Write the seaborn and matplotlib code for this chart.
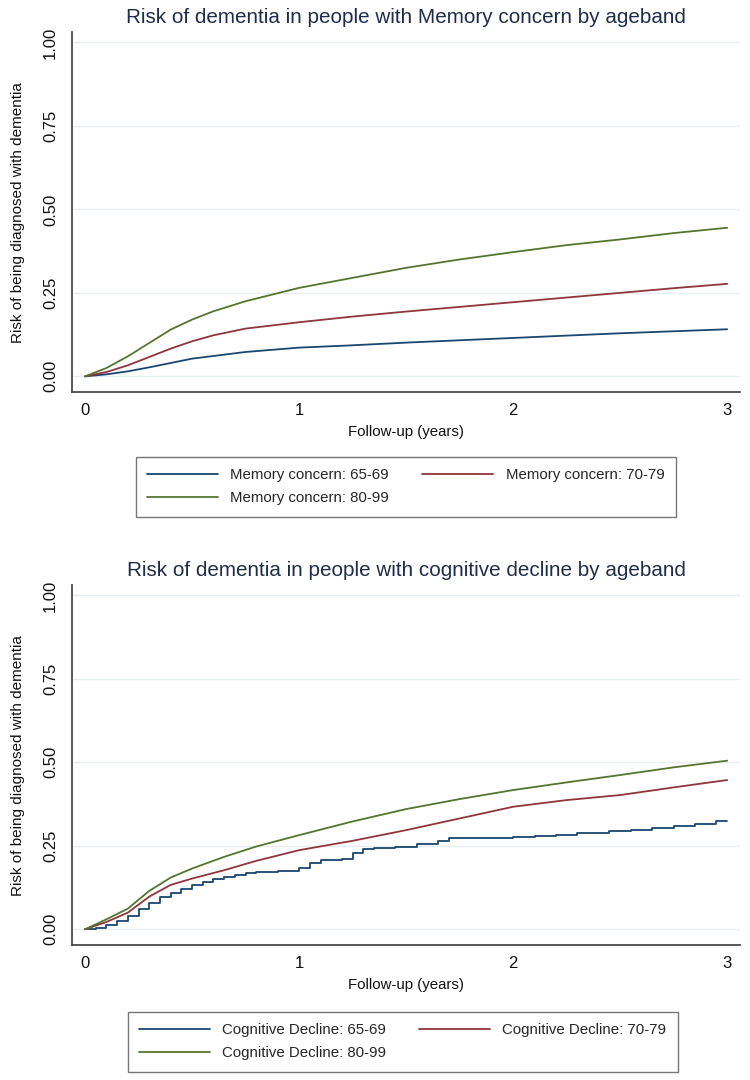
import numpy as np
import pandas as pd
import matplotlib
matplotlib.use("Agg")
import matplotlib.pyplot as plt
import seaborn as sns

# Top panel: memory concern, cumulative risk
mem_years = [0, 0.1, 0.2, 0.3, 0.4, 0.5, 0.6, 0.75, 1.0, 1.25, 1.5, 1.75, 2.0, 2.25, 2.5, 2.75, 3.0]
mem_65_69 = [0, 0.006, 0.015, 0.027, 0.04, 0.053, 0.061, 0.073, 0.086, 0.093, 0.101, 0.108, 0.115, 0.122, 0.129, 0.135, 0.141]
mem_70_79 = [0, 0.013, 0.033, 0.058, 0.083, 0.105, 0.123, 0.143, 0.162, 0.179, 0.194, 0.208, 0.222, 0.236, 0.25, 0.264, 0.277]
mem_80_99 = [0, 0.025, 0.06, 0.10, 0.14, 0.17, 0.195, 0.225, 0.265, 0.295, 0.325, 0.35, 0.372, 0.393, 0.41, 0.429, 0.445]

# Bottom panel: cognitive decline
cog_years = [0, 0.1, 0.2, 0.3, 0.4, 0.5, 0.65, 0.8, 1.0, 1.25, 1.5, 1.75, 2.0, 2.25, 2.5, 2.75, 3.0]
cog_70_79 = [0, 0.022, 0.05, 0.098, 0.133, 0.152, 0.177, 0.205, 0.237, 0.265, 0.297, 0.332, 0.367, 0.387, 0.402, 0.425, 0.447]
cog_80_99 = [0, 0.03, 0.062, 0.115, 0.155, 0.182, 0.217, 0.248, 0.282, 0.323, 0.36, 0.39, 0.417, 0.44, 0.462, 0.485, 0.505]
# 65-69 curve is visibly step-shaped
cog_65_69_years = [0, 0.05, 0.1, 0.15, 0.2, 0.25, 0.3, 0.35, 0.4, 0.45, 0.5, 0.55, 0.6, 0.65, 0.7, 0.75,
                   0.8, 0.9, 1.0, 1.05, 1.1, 1.2, 1.25, 1.3, 1.35, 1.45, 1.55, 1.65, 1.7, 1.8, 2.0,
                   2.1, 2.2, 2.3, 2.45, 2.55, 2.65, 2.75, 2.85, 2.95, 3.0]
cog_65_69 = [0, 0.005, 0.013, 0.025, 0.04, 0.06, 0.08, 0.098, 0.11, 0.122, 0.132, 0.142, 0.15, 0.158,
             0.163, 0.168, 0.172, 0.175, 0.185, 0.198, 0.207, 0.212, 0.228, 0.24, 0.243, 0.245, 0.255,
             0.265, 0.272, 0.273, 0.275, 0.28, 0.283, 0.288, 0.295, 0.297, 0.302, 0.31, 0.316, 0.324,
             0.324]

y_ticks = [0, 0.25, 0.5, 0.75, 1.0]
x_ticks = [0, 1, 2, 3]

NAVY = "#1a476f"
MAROON = "#90353b"
GREEN = "#55752f"
TITLE_COLOR = "#1e2d4a"

sns.set_theme(style="white")
plt.rcParams["font.family"] = ["Liberation Sans", "DejaVu Sans"]


def long_frame(years, series):
    parts = []
    for name, vals in series.items():
        parts.append(pd.DataFrame({"years": years, "risk": vals, "group": name}))
    return pd.concat(parts, ignore_index=True)


def style_axes(ax, title):
    ax.set_xlim(-0.061, 3.061)
    ax.set_ylim(-0.047, 1.03)
    ax.set_xticks(x_ticks)
    ax.set_yticks(y_ticks)
    ax.set_yticklabels([f"{v:.2f}" for v in y_ticks], rotation=90, va="center")
    ax.tick_params(axis="both", direction="out", length=5, width=1, color="#333333",
                   labelsize=12, labelcolor="#111111")
    ax.tick_params(axis="x", pad=3)
    ax.tick_params(axis="y", pad=5)
    for y in y_ticks:
        ax.axhline(y, color="#e6eef1", lw=1, zorder=0)
    sns.despine(ax=ax, top=True, right=True)
    ax.spines["left"].set_color("#444444")
    ax.spines["bottom"].set_color("#444444")
    ax.set_xlabel("Follow-up (years)", fontsize=10.8, color="#111111", labelpad=5)
    ax.set_ylabel("Risk of being diagnosed with dementia", fontsize=11, color="#111111", labelpad=13)
    ax.set_title(title, fontsize=14.9, color=TITLE_COLOR, pad=7)


def add_legend(fig, ax, labels, anchor):
    handles = {line.get_label(): line for line in ax.get_lines()}
    order = [labels[0], labels[2], labels[1]]
    proxies = [plt.Line2D([], [], color=handles[l].get_color(), lw=1.3) for l in order]
    leg = fig.legend(proxies, order, loc="upper center", bbox_to_anchor=anchor, ncol=2,
                     fontsize=10.8, frameon=True, fancybox=False, edgecolor="#555555",
                     handlelength=4.7, handletextpad=0.85, borderpad=0.75, labelspacing=0.6,
                     columnspacing=2.2, borderaxespad=0)
    leg.get_frame().set_linewidth(1.0)


fig = plt.figure(figsize=(7.5, 10.8), dpi=100)
ax1 = fig.add_axes([0.096, 0.637, 0.891, 0.333])
ax2 = fig.add_axes([0.096, 0.125, 0.891, 0.333])

# Top panel
mem_labels = ["Memory concern: 65-69", "Memory concern: 70-79", "Memory concern: 80-99"]
mem_df = long_frame(mem_years, dict(zip(mem_labels, [mem_65_69, mem_70_79, mem_80_99])))
sns.lineplot(data=mem_df, x="years", y="risk", hue="group", palette=[NAVY, MAROON, GREEN],
             estimator=None, sort=False, lw=1.3, legend=False, ax=ax1)
for line, lab in zip(ax1.get_lines(), mem_labels):
    line.set_label(lab)
style_axes(ax1, "Risk of dementia in people with Memory concern by ageband")

# Bottom panel
cog_labels = ["Cognitive Decline: 65-69", "Cognitive Decline: 70-79", "Cognitive Decline: 80-99"]
blue_df = pd.DataFrame({"years": cog_65_69_years, "risk": cog_65_69})
sns.lineplot(data=blue_df, x="years", y="risk", color=NAVY, estimator=None, sort=False,
             lw=1.3, drawstyle="steps-post", ax=ax2)
cog_df = long_frame(cog_years, dict(zip(cog_labels[1:], [cog_70_79, cog_80_99])))
sns.lineplot(data=cog_df, x="years", y="risk", hue="group", palette=[MAROON, GREEN],
             estimator=None, sort=False, lw=1.3, legend=False, ax=ax2)
for line, lab in zip(ax2.get_lines(), cog_labels):
    line.set_label(lab)
style_axes(ax2, "Risk of dementia in people with cognitive decline by ageband")

add_legend(fig, ax1, mem_labels, (0.541, 1 - 457 / 1080))
add_legend(fig, ax2, cog_labels, (0.537, 1 - 1012 / 1080))

fig.savefig("out.png", dpi=100, facecolor="white")
